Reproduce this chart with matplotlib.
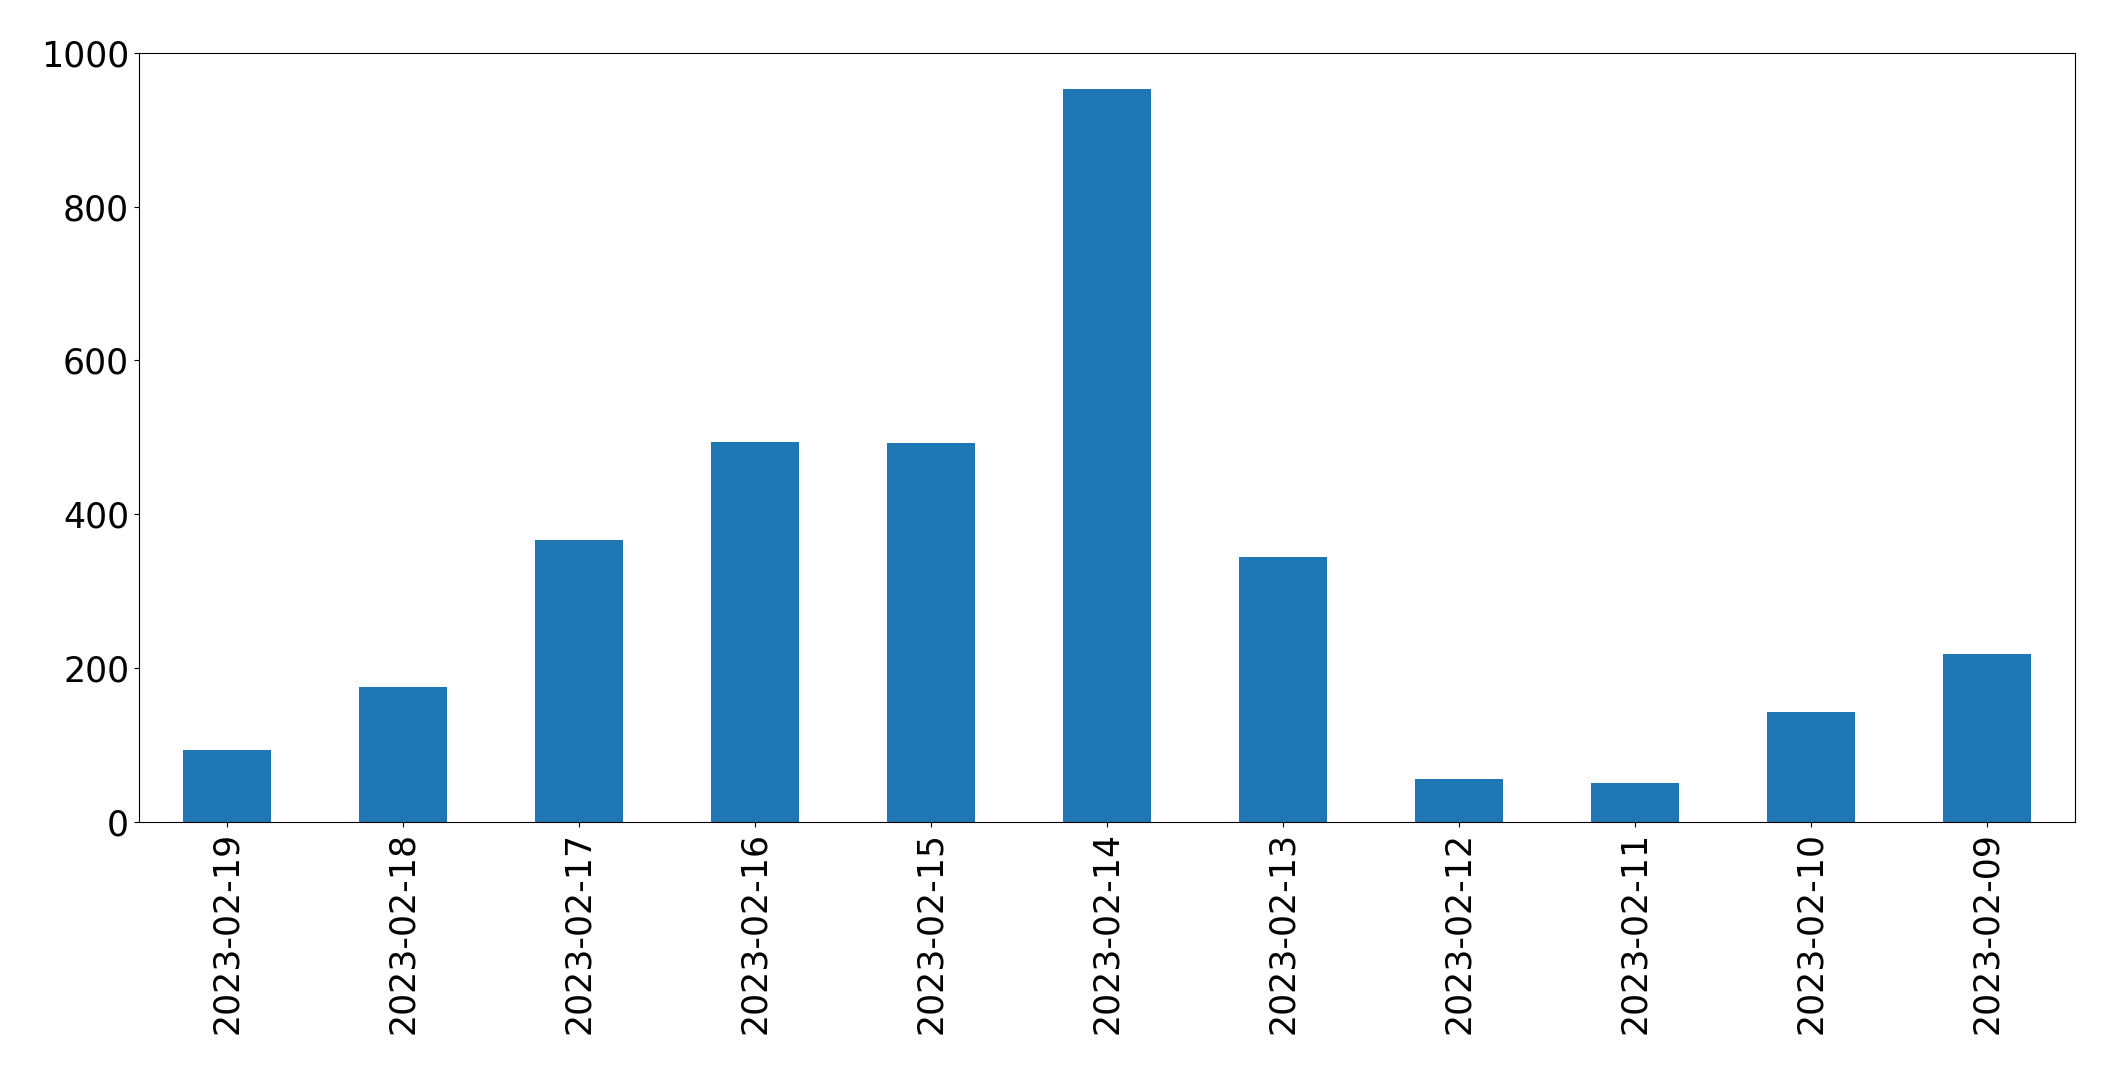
import matplotlib
matplotlib.use("Agg")
import matplotlib.pyplot as plt
import numpy as np

# daily counts, newest first
dates = ["2023-02-19", "2023-02-18", "2023-02-17", "2023-02-16", "2023-02-15",
         "2023-02-14", "2023-02-13", "2023-02-12", "2023-02-11", "2023-02-10",
         "2023-02-09"]
counts = [94, 176, 366, 494, 493, 953, 345, 56, 51, 143, 219]

fig, ax = plt.subplots(figsize=(21.15, 10.74), dpi=100)
x = np.arange(len(dates))
ax.bar(x, counts, width=0.5, color="#1f77b4")
ax.set_xlim(-0.5, len(dates) - 0.5)
ax.set_ylim(0, 1000)
ax.set_xticks(x)
ax.set_xticklabels(dates, rotation=90)
ax.tick_params(axis="both", labelsize=25)

plt.subplots_adjust(left=0.0657, right=0.981, top=0.951, bottom=0.2346)
plt.savefig("out.png")
